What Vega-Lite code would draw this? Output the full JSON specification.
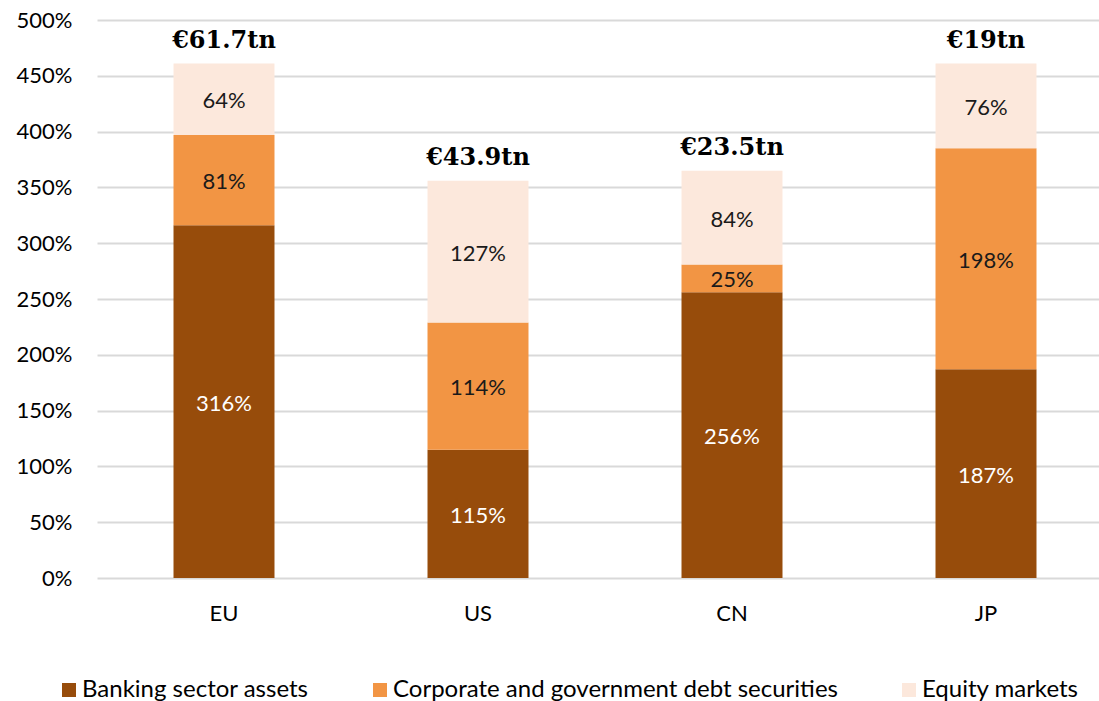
{
  "$schema": "https://vega.github.io/schema/vega-lite/v6.json",
  "width": 1002,
  "height": 558,
  "autosize": {"type": "none"},
  "padding": {"left": 97, "top": 20, "right": 0, "bottom": 123},
  "background": "white",
  "config": {"view": {"stroke": null}, "font": "Lato"},
  "datasets": {
    "segments": [
      {"country": "EU", "category": "Banking sector assets", "ord": 1, "value": 316},
      {"country": "EU", "category": "Corporate and government debt securities", "ord": 2, "value": 81},
      {"country": "EU", "category": "Equity markets", "ord": 3, "value": 64},
      {"country": "US", "category": "Banking sector assets", "ord": 1, "value": 115},
      {"country": "US", "category": "Corporate and government debt securities", "ord": 2, "value": 114},
      {"country": "US", "category": "Equity markets", "ord": 3, "value": 127},
      {"country": "CN", "category": "Banking sector assets", "ord": 1, "value": 256},
      {"country": "CN", "category": "Corporate and government debt securities", "ord": 2, "value": 25},
      {"country": "CN", "category": "Equity markets", "ord": 3, "value": 84},
      {"country": "JP", "category": "Banking sector assets", "ord": 1, "value": 187},
      {"country": "JP", "category": "Corporate and government debt securities", "ord": 2, "value": 198},
      {"country": "JP", "category": "Equity markets", "ord": 3, "value": 76}
    ],
    "totals": [
      {"country": "EU", "label": "€61.7tn", "top": 461},
      {"country": "US", "label": "€43.9tn", "top": 356},
      {"country": "CN", "label": "€23.5tn", "top": 365},
      {"country": "JP", "label": "€19tn", "top": 461}
    ]
  },
  "layer": [
    {
      "data": {"name": "segments"},
      "transform": [
        {"stack": "value", "groupby": ["country"], "sort": [{"field": "ord", "order": "ascending"}], "as": ["y0", "y1"]}
      ],
      "mark": {"type": "bar"},
      "encoding": {
        "x": {
          "field": "country", "type": "nominal", "sort": ["EU", "US", "CN", "JP"],
          "scale": {"range": [0, 1016], "paddingInner": 0.6024, "paddingOuter": 0.3012},
          "axis": {"title": null, "labelAngle": 0, "ticks": false, "domain": false, "labelFontSize": 22, "labelColor": "#000000", "labelPadding": 25, "labelFont": "Lato"}
        },
        "y": {
          "field": "y0", "type": "quantitative",
          "scale": {"domain": [0, 500], "nice": false},
          "axis": {"title": null, "values": [0, 50, 100, 150, 200, 250, 300, 350, 400, 450, 500], "labelExpr": "datum.value + '%'", "ticks": false, "domain": false, "gridColor": "#D9D9D9", "gridWidth": 2, "labelFontSize": 22, "labelColor": "#000000", "labelPadding": 25, "labelFont": "Lato"}
        },
        "y2": {"field": "y1"},
        "color": {
          "field": "category", "type": "nominal",
          "scale": {"domain": ["Banking sector assets", "Corporate and government debt securities", "Equity markets"], "range": ["#974C0B", "#F29544", "#FCE8DC"]},
          "legend": {"title": null, "orient": "none", "direction": "horizontal", "legendX": -40, "legendY": 658, "symbolType": "square", "symbolSize": 196, "symbolStrokeWidth": 0, "labelFontSize": 24, "labelColor": "#000000", "labelFont": "Lato", "columnPadding": 59, "labelOffset": 1, "labelLimit": 700}
        }
      }
    },
    {
      "data": {"name": "segments"},
      "transform": [
        {"stack": "value", "groupby": ["country"], "sort": [{"field": "ord", "order": "ascending"}], "as": ["y0", "y1"]},
        {"calculate": "(datum.y0 + datum.y1) / 2", "as": "mid"},
        {"calculate": "datum.value + '%'", "as": "lbl"}
      ],
      "mark": {"type": "text", "fontSize": 22, "font": "Lato", "baseline": "middle", "dy": 2},
      "encoding": {
        "x": {"field": "country", "type": "nominal", "sort": ["EU", "US", "CN", "JP"]},
        "y": {"field": "mid", "type": "quantitative"},
        "text": {"field": "lbl"},
        "color": {
          "condition": {"test": "datum.ord == 1", "value": "#FFFFFF"},
          "value": "#1A1A1A"
        }
      }
    },
    {
      "data": {"name": "totals"},
      "mark": {"type": "text", "fontSize": 24, "font": "DejaVu Serif", "fontWeight": "bold", "baseline": "alphabetic", "dy": -16, "color": "#000000"},
      "encoding": {
        "x": {"field": "country", "type": "nominal", "sort": ["EU", "US", "CN", "JP"]},
        "y": {"field": "top", "type": "quantitative"},
        "text": {"field": "label"}
      }
    }
  ]
}
